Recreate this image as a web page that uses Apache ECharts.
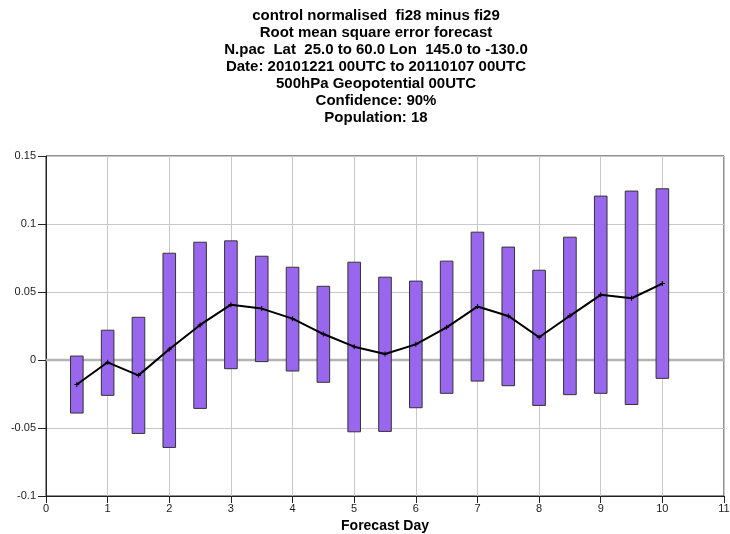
<!DOCTYPE html>
<html>
<head>
<meta charset="utf-8">
<script src="https://cdn.jsdelivr.net/npm/echarts@6/dist/echarts.min.js"></script>
<style>
  html, body { margin: 0; padding: 0; background: #fff; }
  #main { width: 730px; height: 534px; }
</style>
</head>
<body>
<div id="main"></div>
<script>
// forecast days
var days = [0.5, 1, 1.5, 2, 2.5, 3, 3.5, 4, 4.5, 5, 5.5, 6, 6.5, 7, 7.5, 8, 8.5, 9, 9.5, 10];
// mean of normalised rms difference
var means = [-0.018, -0.0017, -0.0113, 0.0079, 0.0258, 0.0407, 0.0378, 0.0304, 0.0191, 0.0098,
             0.0044, 0.0115, 0.024, 0.0393, 0.0324, 0.0167, 0.0325, 0.0479, 0.0454, 0.0562];
// confidence interval, upper and lower ends
var upper = [0.0029, 0.0219, 0.0314, 0.0785, 0.0866, 0.0876, 0.0763, 0.0682, 0.0542, 0.0719,
             0.0609, 0.058, 0.0727, 0.094, 0.083, 0.066, 0.0903, 0.1205, 0.1242, 0.1259];
var lower = [-0.039, -0.026, -0.054, -0.0643, -0.0356, -0.0064, -0.0012, -0.0081, -0.0164, -0.0528,
             -0.0525, -0.0351, -0.0245, -0.0155, -0.0189, -0.0334, -0.0255, -0.0245, -0.0327, -0.0135];

var titleLines = [
  "control normalised  fi28 minus fi29",
  "Root mean square error forecast",
  "N.pac  Lat  25.0 to 60.0 Lon  145.0 to -130.0",
  "Date: 20101221 00UTC to 20110107 00UTC",
  "500hPa Geopotential 00UTC",
  "Confidence: 90%",
  "Population: 18"
];

var boxData = [];
var lineData = [];
for (var i = 0; i < days.length; i++) {
  boxData.push([days[i], lower[i], upper[i]]);
  lineData.push([days[i], means[i]]);
}

var myChart = echarts.init(document.getElementById("main"));
var option = {
  animation: false,
  backgroundColor: "#fff",
  textStyle: { fontFamily: "Liberation Sans, Arial, sans-serif" },
  title: {
    text: titleLines.join("\n"),
    left: 371,
    textAlign: "center",
    top: 2,
    textStyle: {
      fontSize: 15,
      fontWeight: "bold",
      color: "#000",
      lineHeight: 17,
      fontFamily: "Liberation Sans, Arial, sans-serif"
    }
  },
  grid: {
    left: 46,
    right: 6,
    top: 156,
    bottom: 38,
    containLabel: false,
    outerBoundsMode: "none",
    show: true,
    borderColor: "#222",
    borderWidth: 1,
    backgroundColor: "transparent"
  },
  xAxis: {
    type: "value",
    min: 0,
    max: 11,
    interval: 1,
    name: "Forecast Day",
    nameLocation: "middle",
    nameGap: 19,
    nameTextStyle: { fontSize: 14, fontWeight: "bold", color: "#000" },
    axisLine: { show: true, onZero: false, lineStyle: { color: "#222", width: 1 } },
    axisTick: { show: true, length: 7, lineStyle: { color: "#222" } },
    axisLabel: { fontSize: 11, color: "#222", margin: 7 },
    splitLine: { show: true, lineStyle: { color: "#c8c8c8", width: 1 } }
  },
  yAxis: {
    type: "value",
    min: -0.1,
    max: 0.15,
    interval: 0.05,
    axisLine: { show: true, lineStyle: { color: "#222", width: 1 } },
    axisTick: { show: true, length: 8, lineStyle: { color: "#222" } },
    axisLabel: {
      fontSize: 11,
      color: "#222",
      margin: 10,
      formatter: function (v) {
        return String(Math.round(v * 100) / 100);
      }
    },
    splitLine: { show: true, lineStyle: { color: "#c8c8c8", width: 1 } }
  },
  series: [
    {
      // thicker zero line
      type: "line",
      data: [[0, 0], [11, 0]],
      symbol: "none",
      silent: true,
      lineStyle: { color: "#b4b4b4", width: 2.5 },
      z: 1
    },
    {
      type: "custom",
      data: boxData,
      renderItem: function (params, api) {
        var x = api.value(0);
        var top = api.coord([x, api.value(2)]);
        var bot = api.coord([x, api.value(1)]);
        var w = 12.6;
        return {
          type: "rect",
          shape: { x: top[0] - w / 2, y: top[1], width: w, height: bot[1] - top[1] },
          style: { fill: "#9966ee", stroke: "#333", lineWidth: 1 }
        };
      },
      z: 2
    },
    {
      type: "line",
      data: lineData,
      symbol: "path://M0,4H10V6H0ZM4,0H6V10H4Z",
      symbolSize: 5,
      itemStyle: { color: "#000" },
      lineStyle: { color: "#000", width: 2 },
      z: 3
    }
  ]
};
myChart.setOption(option, true);
</script>
</body>
</html>
